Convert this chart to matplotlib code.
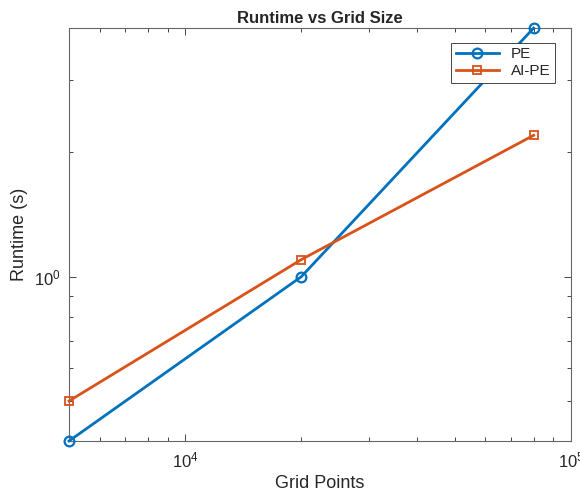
import matplotlib.pyplot as plt
from matplotlib.ticker import LogLocator, NullFormatter

plt.rcParams['font.family'] = ['Liberation Sans', 'DejaVu Sans']
plt.rcParams['mathtext.fontset'] = 'custom'
plt.rcParams['mathtext.rm'] = 'Liberation Sans'
plt.rcParams['mathtext.it'] = 'Liberation Sans'

### data ###
grid_points = [5000, 20000, 80000]
runtime_pe = [0.4, 1.0, 4.0]
runtime_aipe = [0.5, 1.1, 2.2]

blue = (0, 0.447, 0.741)
orange = (0.85, 0.325, 0.098)
dark = (0.15, 0.15, 0.15)

fig = plt.figure(figsize=(5.8, 4.93), dpi=100)
ax = fig.add_axes([0.119, 0.1055, 0.8655, 0.8375])

ax.plot(grid_points, runtime_pe, '-o', color=blue, lw=2, ms=7, mew=1.6,
        mfc='none', label='PE', clip_on=False, zorder=3)
ax.plot(grid_points, runtime_aipe, '-s', color=orange, lw=2, ms=5.5, mew=1.3,
        mfc='none', label='AI-PE', clip_on=False, zorder=3)

ax.set_xscale('log')
ax.set_yscale('log')
ax.set_xlim(5000, 1e5)
ax.set_ylim(0.4, 4)

ax.xaxis.set_minor_locator(LogLocator(base=10, subs=range(2, 10)))
ax.yaxis.set_minor_locator(LogLocator(base=10, subs=range(2, 10)))
ax.xaxis.set_minor_formatter(NullFormatter())
ax.yaxis.set_minor_formatter(NullFormatter())

ax.tick_params(which='both', direction='in', top=True, right=True,
               colors=dark, labelcolor=dark, labelsize=12, width=0.6)
ax.tick_params(which='major', length=5)
ax.tick_params(which='minor', length=3)
ax.tick_params(axis='x', which='major', pad=7)
ax.tick_params(axis='y', which='major', pad=6)
for s in ax.spines.values():
    s.set_color((0.4, 0.4, 0.4))
    s.set_linewidth(0.8)

ax.set_title('Runtime vs Grid Size', fontsize=12, fontweight='bold', color=dark, pad=4)
ax.set_xlabel('Grid Points', fontsize=13, color=dark, labelpad=3)
ax.set_ylabel('Runtime (s)', fontsize=13, color=dark, labelpad=4)

leg = ax.legend(loc='upper right', bbox_to_anchor=(0.968, 0.965), fontsize=11,
                fancybox=False, framealpha=1, edgecolor=dark, handlelength=2.8,
                borderpad=0.3, labelspacing=0.2, borderaxespad=0)
leg.get_frame().set_linewidth(0.6)
for t in leg.get_texts():
    t.set_color(dark)

fig.savefig('out.png', dpi=100)
